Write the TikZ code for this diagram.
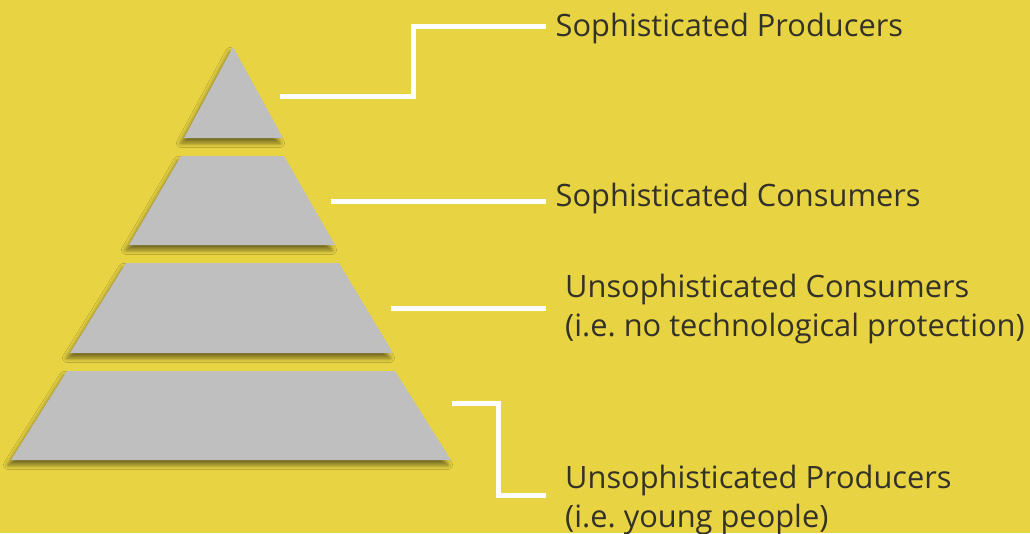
\documentclass[tikz,border=0pt]{standalone}
\usepackage{fontspec}
\setmainfont{Open Sans}
\usetikzlibrary{shadows.blur}
\definecolor{bgyellow}{RGB}{232,212,66}
\definecolor{layergray}{RGB}{191,191,191}
\definecolor{labeltext}{RGB}{52,50,40}
\frenchspacing
\begin{document}
\begin{tikzpicture}[x=1pt, y=-1pt,
  layer/.style={fill=layergray, blur shadow={shadow xshift=-3pt, shadow yshift=-5pt, shadow blur radius=4.5pt, shadow opacity=50}},
  connector/.style={line width=5pt, white, line join=miter},
  tier/.style={anchor=base west, inner sep=0pt, align=left, text=labeltext, font=\fontsize{30.8}{39}\selectfont}]

\fill[bgyellow] (0,0) rectangle (1030,533);
\useasboundingbox (0,0) rectangle (1030,533);

% pyramid layers, top to bottom
\path[layer] (233,47) -- (283,138) -- (184,138) -- cycle;
\path[layer] (181,156) -- (284,156) -- (335,245) -- (129,245) -- cycle;
\path[layer] (126,263) -- (339,263) -- (393,353) -- (70,353) -- cycle;
\path[layer] (67,371) -- (395,371) -- (451,460) -- (11,460) -- cycle;

% labels (base = last line)
\node[tier] (sophprod) at (555.5,36) {Sophisticated Producers};
\node[tier] (sophcons) at (555.5,206) {Sophisticated Consumers};
\node[tier] (unsophcons) at (565,336) {Unsophisticated Consumers\\(i.e. no technological protection)};
\node[tier] (unsophprod) at (565,527) {Unsophisticated Producers\\(i.e. young people)};

\coordinate (from1) at (280,96);
\coordinate (to1) at (546,26);
\coordinate (from2) at (331,201);
\coordinate (to2) at (546,201);
\coordinate (from3) at (391,308);
\coordinate (to3) at (546,308);
\coordinate (from4) at (452,403.5);
\coordinate (to4) at (546,495);

\draw[connector] (from1) -- (413,96) |- (to1);
\draw[connector] (from2) -- (to2);
\draw[connector] (from3) -- (to3);
\draw[connector] (from4) -- (498.5,403.5) |- (to4);

\end{tikzpicture}
\end{document}
